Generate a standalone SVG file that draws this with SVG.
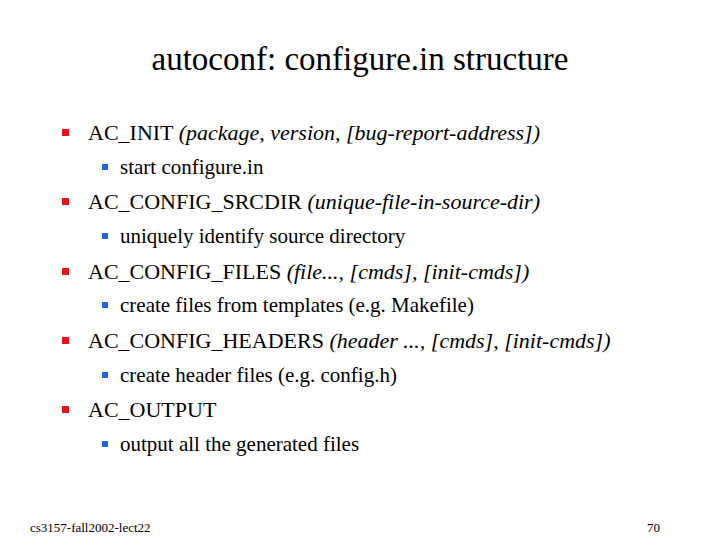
<svg xmlns="http://www.w3.org/2000/svg" width="720" height="540" viewBox="0 0 720 540">
<style>
.txt{font-family:"Liberation Serif","Times New Roman",serif}
.rb{fill:#e8131b}
.bb{fill:#1e64e6}
</style>
<rect width="720" height="540" fill="#fff"/>
<g fill="#000">
<text class="txt" font-family="Liberation Serif, serif" x="360" y="70" font-size="33" text-anchor="middle">autoconf: configure.in structure</text>
<text class="txt" font-family="Liberation Serif, serif" font-size="22" x="88" y="140">AC_INIT <tspan font-style="italic">(package, version, [bug-report-address])</tspan></text>
<text class="txt" font-family="Liberation Serif, serif" font-size="21" x="120" y="174">start configure.in</text>
<text class="txt" font-family="Liberation Serif, serif" font-size="22" x="88" y="209">AC_CONFIG_SRCDIR <tspan font-style="italic">(unique-file-in-source-dir)</tspan></text>
<text class="txt" font-family="Liberation Serif, serif" font-size="21" x="120" y="243">uniquely identify source directory</text>
<text class="txt" font-family="Liberation Serif, serif" font-size="22" x="88" y="279">AC_CONFIG_FILES <tspan font-style="italic">(file..., [cmds], [init-cmds])</tspan></text>
<text class="txt" font-family="Liberation Serif, serif" font-size="21" x="120" y="312">create files from templates (e.g. Makefile)</text>
<text class="txt" font-family="Liberation Serif, serif" font-size="22" x="88" y="348">AC_CONFIG_HEADERS <tspan font-style="italic">(header ..., [cmds], [init-cmds])</tspan></text>
<text class="txt" font-family="Liberation Serif, serif" font-size="21" x="120" y="382">create header files (e.g. config.h)</text>
<text class="txt" font-family="Liberation Serif, serif" font-size="22" x="88" y="417">AC_OUTPUT</text>
<text class="txt" font-family="Liberation Serif, serif" font-size="21" x="120" y="451">output all the generated files</text>
<text class="txt" font-family="Liberation Serif, serif" font-size="13" x="30" y="532">cs3157-fall2002-lect22</text>
<text class="txt" font-family="Liberation Serif, serif" font-size="13" x="660" y="532" text-anchor="end">70</text>
</g>
<g class="rb">
<rect x="62" y="129" width="7" height="7"/>
<rect x="62" y="198" width="7" height="7"/>
<rect x="62" y="268" width="7" height="7"/>
<rect x="62" y="337" width="7" height="7"/>
<rect x="62" y="406" width="7" height="7"/>
</g>
<g class="bb">
<rect x="102" y="164" width="6" height="6"/>
<rect x="102" y="233" width="6" height="6"/>
<rect x="102" y="302" width="6" height="6"/>
<rect x="102" y="372" width="6" height="6"/>
<rect x="102" y="441" width="6" height="6"/>
</g>
</svg>
